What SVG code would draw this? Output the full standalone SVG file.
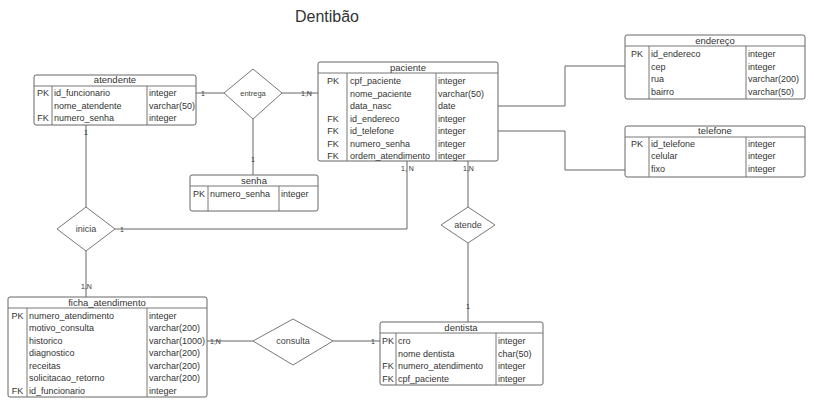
<svg xmlns="http://www.w3.org/2000/svg" width="814" height="406" viewBox="0 0 814 406">
<style>
text{font-family:"Liberation Sans",Arial,sans-serif;fill:#333;}
.t{font-size:9px;}
.h{font-size:9.5px;text-anchor:middle;}
.k{font-size:9px;text-anchor:middle;}
.c{font-size:7px;fill:#333;}
.box{fill:#fff;stroke:#666;stroke-width:1;}
.ln{stroke:#777;stroke-width:1;fill:none;}
.cn{stroke:#666;stroke-width:1;fill:none;}
.dm{fill:#fff;stroke:#777;stroke-width:1;}
.dl{font-size:9px;text-anchor:middle;fill:#444;}
</style>
<rect width="814" height="406" fill="#fff"/>
<text x="327" y="22" style="font-size:16px;text-anchor:middle;fill:#333">Dentibão</text>

<g id="connectors">
<polyline class="cn" points="196,93 224,93"/>
<polyline class="cn" points="282,93 318,93"/>
<polyline class="cn" points="253,119 253,175"/>
<polyline class="cn" points="86,125 86,207"/>
<polyline class="cn" points="86,251 86,297"/>
<polyline class="cn" points="115,229 407,229 407,161"/>
<polyline class="cn" points="468,161 468,207"/>
<polyline class="cn" points="468,243 468,322"/>
<polyline class="cn" points="207,341 253,341"/>
<polyline class="cn" points="333,341 380,341"/>
<polyline class="cn" points="498,106 565,106 565,66 625,66"/>
<polyline class="cn" points="498,131 565,131 565,170 625,170"/>
<text class="c" x="201" y="96">1</text>
<text class="c" x="301" y="96">1,N</text>
<text class="c" x="251" y="162">1</text>
<text class="c" x="84" y="135">1</text>
<text class="c" x="81" y="289">1,N</text>
<text class="c" x="120" y="232">1</text>
<text class="c" x="401" y="171">1, N</text>
<text class="c" x="463" y="171">1,N</text>
<text class="c" x="466" y="309">1</text>
<text class="c" x="210" y="344">1,N</text>
<text class="c" x="371" y="344">1</text>
</g>

<g id="entrega">
<polygon class="dm" points="253,69 282,93 253,119 224,93"/>
<text class="dl" x="253" y="96" style="font-size:7.5px">entrega</text>
</g>
<g id="inicia">
<polygon class="dm" points="86,207 115,229 86,251 57,229"/>
<text class="dl" x="86" y="232">inicia</text>
</g>
<g id="atende">
<polygon class="dm" points="468,207 495,225 468,243 441,225"/>
<text class="dl" x="468" y="228">atende</text>
</g>
<g id="consulta">
<polygon class="dm" points="293,319 333,341 293,365 253,341"/>
<text class="dl" x="293" y="344">consulta</text>
</g>

<g id="atendente">
<rect class="box" x="34" y="75" width="162" height="50" rx="2"/>
<line class="ln" x1="34" y1="86" x2="196" y2="86"/>
<line class="ln" x1="52" y1="86" x2="52" y2="125"/>
<line class="ln" x1="147" y1="86" x2="147" y2="125"/>
<text class="h" x="115" y="83">atendente</text>
<text class="k" x="43" y="96">PK</text><text class="t" x="54" y="96">id_funcionario</text><text class="t" x="149" y="96">integer</text>
<text class="t" x="54" y="108.5">nome_atendente</text><text class="t" x="149" y="108.5">varchar(50)</text>
<text class="k" x="43" y="121">FK</text><text class="t" x="54" y="121">numero_senha</text><text class="t" x="149" y="121">integer</text>
</g>

<g id="paciente">
<rect class="box" x="318" y="62" width="180" height="99" rx="2"/>
<line class="ln" x1="318" y1="73" x2="498" y2="73"/>
<line class="ln" x1="347" y1="73" x2="347" y2="161"/>
<line class="ln" x1="436" y1="73" x2="436" y2="161"/>
<text class="h" x="408" y="70.5">paciente</text>
<text class="k" x="333" y="84">PK</text><text class="t" x="350" y="84">cpf_paciente</text><text class="t" x="438" y="84">integer</text>
<text class="t" x="350" y="96.5">nome_paciente</text><text class="t" x="438" y="96.5">varchar(50)</text>
<text class="t" x="350" y="109">data_nasc</text><text class="t" x="438" y="109">date</text>
<text class="k" x="333" y="121.5">FK</text><text class="t" x="350" y="121.5">id_endereco</text><text class="t" x="438" y="121.5">integer</text>
<text class="k" x="333" y="134">FK</text><text class="t" x="350" y="134">id_telefone</text><text class="t" x="438" y="134">integer</text>
<text class="k" x="333" y="146.5">FK</text><text class="t" x="350" y="146.5">numero_senha</text><text class="t" x="438" y="146.5">integer</text>
<text class="k" x="333" y="159">FK</text><text class="t" x="350" y="159">ordem_atendimento</text><text class="t" x="438" y="159">integer</text>
</g>

<g id="endereco">
<rect class="box" x="625" y="35" width="180" height="64" rx="2"/>
<line class="ln" x1="625" y1="46" x2="805" y2="46"/>
<line class="ln" x1="649" y1="46" x2="649" y2="99"/>
<line class="ln" x1="746" y1="46" x2="746" y2="99"/>
<text class="h" x="715" y="43.5">endereço</text>
<text class="k" x="637" y="57">PK</text><text class="t" x="651" y="57">id_endereco</text><text class="t" x="748" y="57">integer</text>
<text class="t" x="651" y="69.5">cep</text><text class="t" x="748" y="69.5">integer</text>
<text class="t" x="651" y="82">rua</text><text class="t" x="748" y="82">varchar(200)</text>
<text class="t" x="651" y="94.5">bairro</text><text class="t" x="748" y="94.5">varchar(50)</text>
</g>

<g id="telefone">
<rect class="box" x="625" y="126" width="180" height="51" rx="2"/>
<line class="ln" x1="625" y1="137" x2="805" y2="137"/>
<line class="ln" x1="649" y1="137" x2="649" y2="177"/>
<line class="ln" x1="746" y1="137" x2="746" y2="177"/>
<text class="h" x="715" y="134">telefone</text>
<text class="k" x="637" y="146.5">PK</text><text class="t" x="651" y="146.5">id_telefone</text><text class="t" x="748" y="146.5">integer</text>
<text class="t" x="651" y="159">celular</text><text class="t" x="748" y="159">integer</text>
<text class="t" x="651" y="171.5">fixo</text><text class="t" x="748" y="171.5">integer</text>
</g>

<g id="senha">
<rect class="box" x="190" y="175" width="128" height="36" rx="2"/>
<line class="ln" x1="190" y1="186" x2="318" y2="186"/>
<line class="ln" x1="208" y1="186" x2="208" y2="211"/>
<line class="ln" x1="279" y1="186" x2="279" y2="211"/>
<text class="h" x="254" y="183.5">senha</text>
<text class="k" x="199" y="197">PK</text><text class="t" x="210" y="197">numero_senha</text><text class="t" x="281" y="197">integer</text>
</g>

<g id="ficha_atendimento">
<rect class="box" x="8" y="297" width="199" height="100" rx="2"/>
<line class="ln" x1="8" y1="308" x2="207" y2="308"/>
<line class="ln" x1="27" y1="308" x2="27" y2="397"/>
<line class="ln" x1="147" y1="308" x2="147" y2="397"/>
<text class="h" x="107" y="305.5">ficha_atendimento</text>
<text class="k" x="17.5" y="318.5">PK</text><text class="t" x="29" y="318.5">numero_atendimento</text><text class="t" x="149" y="318.5">integer</text>
<text class="t" x="29" y="331">motivo_consulta</text><text class="t" x="149" y="331">varchar(200)</text>
<text class="t" x="29" y="343.5">historico</text><text class="t" x="149" y="343.5">varchar(1000)</text>
<text class="t" x="29" y="356">diagnostico</text><text class="t" x="149" y="356">varchar(200)</text>
<text class="t" x="29" y="368.5">receitas</text><text class="t" x="149" y="368.5">varchar(200)</text>
<text class="t" x="29" y="381">solicitacao_retorno</text><text class="t" x="149" y="381">varchar(200)</text>
<text class="k" x="17.5" y="393.5">FK</text><text class="t" x="29" y="393.5">id_funcionario</text><text class="t" x="149" y="393.5">integer</text>
</g>

<g id="dentista">
<rect class="box" x="380" y="322" width="163" height="63" rx="2"/>
<line class="ln" x1="380" y1="333" x2="543" y2="333"/>
<line class="ln" x1="396" y1="333" x2="396" y2="385"/>
<line class="ln" x1="496" y1="333" x2="496" y2="385"/>
<text class="h" x="461" y="330.5">dentista</text>
<text class="k" x="388" y="344">PK</text><text class="t" x="398" y="344">cro</text><text class="t" x="498" y="344">integer</text>
<text class="t" x="398" y="356.5">nome dentista</text><text class="t" x="498" y="356.5">char(50)</text>
<text class="k" x="388" y="369">FK</text><text class="t" x="398" y="369">numero_atendimento</text><text class="t" x="498" y="369">integer</text>
<text class="k" x="388" y="381.5">FK</text><text class="t" x="398" y="381.5">cpf_paciente</text><text class="t" x="498" y="381.5">integer</text>
</g>
</svg>
